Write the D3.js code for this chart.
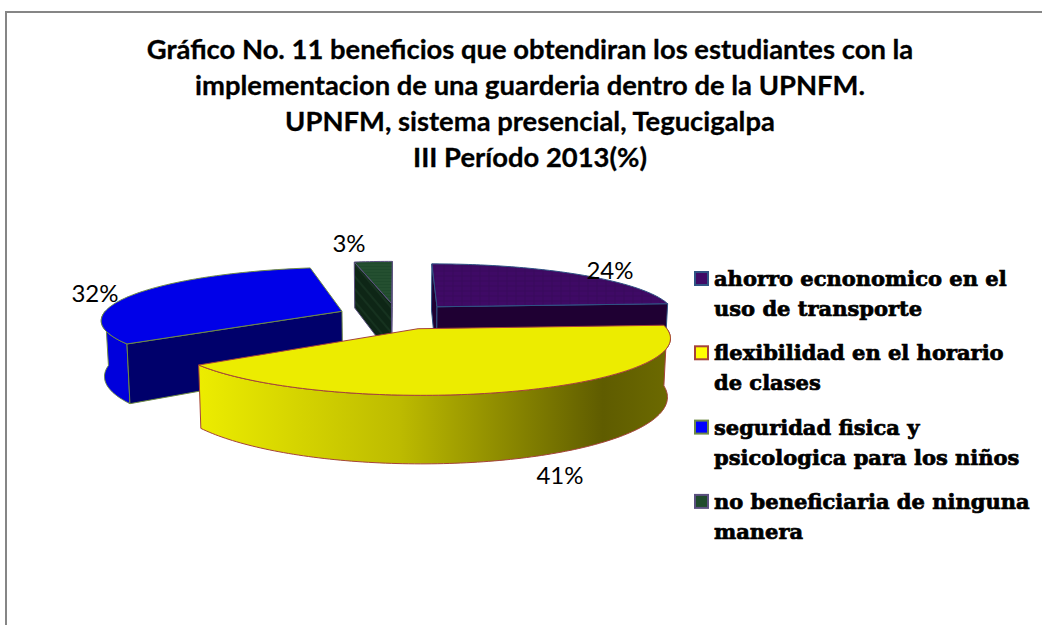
<!DOCTYPE html>
<html>
<head>
<meta charset="utf-8">
<script src="https://cdn.jsdelivr.net/npm/d3@7"></script>
<style>
  html, body { margin: 0; padding: 0; background: #fff; }
  svg { display: block; }
</style>
</head>
<body>
<div id="chart"></div>
<script>
// chart values
var categories = [
  ["ahorro ecnonomico en el", "uso de transporte"],
  ["flexibilidad en el horario", "de clases"],
  ["seguridad fisica y", "psicologica para los niños"],
  ["no beneficiaria de ninguna", "manera"]
];
var values = [24, 41, 32, 3];
var titleLines = [
  "Gráfico No. 11 beneficios que obtendiran los estudiantes con la",
  "implementacion de una guarderia dentro de la UPNFM.",
  "UPNFM, sistema presencial, Tegucigalpa",
  "III Período 2013(%)"
];
var topFills = ["url(#texPurple)", "#ecec00", "#0000e8", "url(#texGreen)"];
var wallFills = ["#1f0033", "url(#wallYellow)", "#0000dc", "#10291a"];
var faceFills = ["#1f0033", "#8f8d00", "#00006b", "url(#texGreenDark)"];
var strokes = ["#2f5484", "#a5433a", "#6f8a45", "#5b5080"];
var swatchFills = ["#3f0a66", "#ffff00", "#0000ff", "#1f4a2c"];

var width = 1042, height = 625;

// pie geometry
var cx = 397, cy = 316, R = 240, explode = 60, tilt = 0.217, thickness = 55;
var kx = 0.15, ky = 0.153, kz = 0.16, squeeze = 0.0002;

// label spots for the percentages
var labelSpots = [[610, 279], [560, 484], [95, 302], [349, 252]];

var svg = d3.select("#chart").append("svg")
    .attr("width", width)
    .attr("height", height);

var defs = svg.append("defs");

// yellow wall goes dark towards the right
var grad = defs.append("linearGradient")
    .attr("id", "wallYellow")
    .attr("gradientUnits", "userSpaceOnUse")
    .attr("x1", 200).attr("y1", 0)
    .attr("x2", 674).attr("y2", 0);
[[0, "#ecec00"], [0.42, "#bdbb00"], [0.85, "#5f5c00"], [1, "#6d6b00"]].forEach(function(s) {
  grad.append("stop").attr("offset", s[0]).attr("stop-color", s[1]);
});

// textures of purple and green slices
var pPurple = defs.append("pattern").attr("id", "texPurple")
    .attr("patternUnits", "userSpaceOnUse").attr("width", 9).attr("height", 5);
pPurple.append("rect").attr("width", 9).attr("height", 5).attr("fill", "#3f0a66");
pPurple.append("path").attr("d", "M0 1H9M3 0V5").attr("stroke", "#38095c").attr("stroke-width", 1);

var pGreen = defs.append("pattern").attr("id", "texGreen")
    .attr("patternUnits", "userSpaceOnUse").attr("width", 6).attr("height", 3);
pGreen.append("rect").attr("width", 6).attr("height", 3).attr("fill", "#1f4a2c");
pGreen.append("path").attr("d", "M0 1H6").attr("stroke", "#285433").attr("stroke-width", 1);

var pGreenDark = defs.append("pattern").attr("id", "texGreenDark")
    .attr("patternUnits", "userSpaceOnUse").attr("width", 8).attr("height", 8)
    .attr("patternTransform", "rotate(50)");
pGreenDark.append("rect").attr("width", 8).attr("height", 8).attr("fill", "#0e2616");
pGreenDark.append("path").attr("d", "M0 2H8").attr("stroke", "#16321f").attr("stroke-width", 2);

// chart frame, only top and left show in the picture
svg.append("path")
    .attr("d", d3.line()([[6, height], [6, 12], [width, 12]]))
    .attr("fill", "none")
    .attr("stroke", "#868686")
    .attr("stroke-width", 2);

// title
svg.append("g").selectAll("text")
    .data(titleLines)
    .enter()
    .append("text")
    .attr("x", 530)
    .attr("y", function(d, i) { return 59 + i * 36; })
    .attr("text-anchor", "middle")
    .attr("font-family", "Lato")
    .attr("font-weight", 700)
    .attr("font-size", 27.4)
    .attr("fill", "#000")
    .attr("stroke", "#000")
    .attr("stroke-width", 0.3)
    .text(function(d) { return d; });

var pie = d3.pie().sort(null)(values);

// slice point: a is clockwise from the top, r radius, z height
function project(slice, a, r, z) {
  var mid = (slice.startAngle + slice.endAngle) / 2;
  var X = r * Math.sin(a) + explode * Math.sin(mid);
  var Y = r * Math.cos(a) + explode * Math.cos(mid);
  return [
    cx + (X / (1 + kx * Y / R)) * (1 - squeeze * z),
    cy - tilt * Y / (1 + ky * Y / R) + z / (1 + kz * Y / R)
  ];
}

function arcAngles(a0, a1) {
  var n = Math.max(2, Math.ceil((a1 - a0) / 0.02));
  return d3.range(n + 1).map(function(i) { return a0 + (a1 - a0) * i / n; });
}

var line = d3.line().curve(d3.curveLinearClosed);

function draw(group, pts, fill, stroke) {
  group.append("path")
      .attr("d", line(pts))
      .attr("fill", fill)
      .attr("stroke", stroke)
      .attr("stroke-width", 1)
      .attr("stroke-linejoin", "round");
}

// back to front
[0, 3, 2, 1].forEach(function(i) {
  var s = pie[i];
  var g = svg.append("g");

  // outer wall, only the front half of the rim
  var w0 = Math.max(s.startAngle, Math.PI / 2);
  var w1 = Math.min(s.endAngle, Math.PI * 1.5);
  if (w1 > w0) {
    var angs = arcAngles(w0, w1);
    var upper = angs.map(function(a) { return project(s, a, R, 0); });
    var lower = angs.slice().reverse().map(function(a) { return project(s, a, R, thickness); });
    draw(g, upper.concat(lower), wallFills[i], strokes[i]);
  }

  // cut faces, skip the ones turned away from us
  var quad = function(a) {
    return [project(s, a, 0, 0), project(s, a, R, 0), project(s, a, R, thickness), project(s, a, 0, thickness)];
  };
  var qs = quad(s.startAngle), qe = quad(s.endAngle);
  if (d3.polygonArea(qs) > 0) draw(g, qs, faceFills[i], strokes[i]);
  if (d3.polygonArea(qe) < 0) draw(g, qe, faceFills[i], strokes[i]);

  // top
  var top = arcAngles(s.startAngle, s.endAngle).map(function(a) { return project(s, a, R, 0); });
  top.push(project(s, 0, 0, 0));
  draw(g, top, topFills[i], strokes[i]);
});

// percentages
svg.append("g").selectAll("text")
    .data(values)
    .enter()
    .append("text")
    .attr("x", function(d, i) { return labelSpots[i][0]; })
    .attr("y", function(d, i) { return labelSpots[i][1]; })
    .attr("text-anchor", "middle")
    .attr("font-family", "Lato")
    .attr("font-size", 24)
    .attr("fill", "#000")
    .text(function(d) { return d + "%"; });

// legend
var legend = svg.append("g").selectAll("g")
    .data(categories)
    .enter()
    .append("g")
    .attr("transform", function(d, i) { return "translate(0," + (i * 74.3) + ")"; });

legend.append("rect")
    .attr("x", 695)
    .attr("y", 272)
    .attr("width", 13)
    .attr("height", 13)
    .attr("fill", function(d, i) { return swatchFills[i]; })
    .attr("stroke", function(d, i) { return strokes[i]; })
    .attr("stroke-width", 2);

legend.selectAll("text")
    .data(function(d) { return d; })
    .enter()
    .append("text")
    .attr("x", 714)
    .attr("y", function(d, j) { return 286 + j * 30; })
    .attr("font-family", "DejaVu Serif")
    .attr("font-weight", 700)
    .attr("font-size", 21)
    .attr("fill", "#000")
    .attr("stroke", "#000")
    .attr("stroke-width", 0.7)
    .text(function(d) { return d; });
</script>
</body>
</html>
